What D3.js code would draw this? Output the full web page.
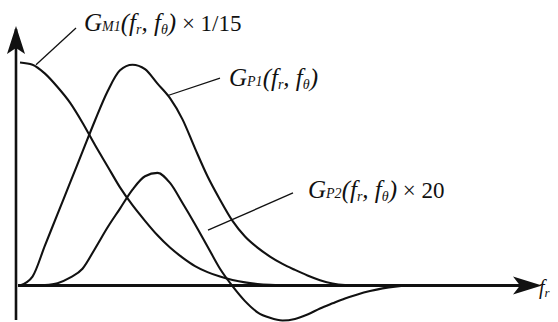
<!DOCTYPE html>
<html>
<head>
<meta charset="utf-8">
<script src="https://cdn.jsdelivr.net/npm/d3@7/dist/d3.min.js"></script>
<style>
  html, body { margin: 0; padding: 0; background: #ffffff; }
  svg { display: block; }
  .lbl { font-family: "Liberation Serif", "DejaVu Serif", serif; font-style: italic; fill: #111; }
</style>
</head>
<body>
<svg id="chart" width="558" height="322"></svg>
<script>
// radial frequency samples (arbitrary units)
const fr = [0, 0.25, 0.5, 0.75, 1, 1.25, 1.5, 1.75, 2, 2.25, 2.5, 2.75, 3, 3.25, 3.5, 3.75,
            4, 4.25, 4.5, 4.75, 5, 5.25, 5.5, 5.75, 6, 6.25, 6.5, 6.75, 7, 7.25, 7.5, 7.75, 8];

// G_M1(fr, fθ) × 1/15
const gM1 = [1.0, 0.99, 0.95, 0.89, 0.82, 0.73, 0.63, 0.535, 0.44, 0.36, 0.29, 0.225, 0.17, 0.125, 0.087, 0.06,
             0.04, 0.025, 0.014, 0.007, 0.003, 0.001, 0, 0, 0, 0, 0, 0, 0, 0, 0, 0, 0];

// G_P1(fr, fθ)
const gP1 = [0, 0.04, 0.18, 0.32, 0.46, 0.60, 0.74, 0.87, 0.965, 0.99, 0.97, 0.905, 0.84, 0.745, 0.615, 0.49,
             0.385, 0.29, 0.22, 0.17, 0.13, 0.097, 0.07, 0.045, 0.024, 0.009, 0.002, 0, 0, 0, 0, 0, 0];

// G_P2(fr, fθ) × 20
const gP2 = [0, 0, 0.002, 0.01, 0.035, 0.075, 0.165, 0.26, 0.345, 0.43, 0.49, 0.505, 0.46, 0.37, 0.275, 0.175,
             0.075, -0.003, -0.07, -0.12, -0.145, -0.157, -0.15, -0.13, -0.103, -0.08, -0.058, -0.04, -0.025, -0.013, -0.005, -0.001, 0];

const svg = d3.select("#chart");

const x = d3.scaleLinear().domain([0, 10]).range([20, 520]);
const y = d3.scaleLinear().domain([0, 1]).range([285.5, 62.5]);

// axes: vertical from below the baseline up to an arrow, horizontal out to an arrow
const axisG = svg.append("g");
axisG.append("line")
  .attr("x1", x(0) - 4).attr("x2", x(0) - 4)
  .attr("y1", y(-0.155)).attr("y2", y(1.15))
  .attr("stroke", "#111").attr("stroke-width", 2.6);
axisG.append("line")
  .attr("x1", x(0) - 2).attr("x2", x(10.3))
  .attr("y1", y(0)).attr("y2", y(0))
  .attr("stroke", "#111").attr("stroke-width", 3);

// arrowheads
const vx = x(0) - 4, vy = y(1.15) - 3;
axisG.append("path")
  .attr("d", `M${vx},${vy} L${vx + 9},${vy + 28} L${vx},${vy + 22} L${vx - 9},${vy + 28} Z`)
  .attr("fill", "#111");
const hx = x(10.44), hy = y(0);
axisG.append("path")
  .attr("d", `M${hx},${hy} L${hx - 29},${hy - 9} L${hx - 22},${hy} L${hx - 29},${hy + 9} Z`)
  .attr("fill", "#111");

// axis label f_r
const fl = svg.append("text").attr("class", "lbl")
  .attr("x", hx - 3).attr("y", hy + 8).attr("font-size", 20);
fl.append("tspan").text("f");
fl.append("tspan").attr("font-size", 13).attr("dy", 3).text("r");

// curves
const line = d3.line()
  .x((d, i) => x(fr[i]))
  .y(d => y(d))
  .curve(d3.curveMonotoneX);

[gM1, gP1, gP2].forEach(s => {
  svg.append("path")
    .attr("d", line(s))
    .attr("fill", "none")
    .attr("stroke", "#111")
    .attr("stroke-width", 2.1)
    .attr("stroke-linejoin", "round");
});

// leader lines from each curve to its label
const leaders = [
  { at: 0.32, y0: 0.99, tx: 1.12, ty: 1.155 },
  { at: 2.96, y0: 0.852, tx: 4.0, ty: 0.93 },
  { at: 3.76, y0: 0.248, tx: 5.46, ty: 0.415 }
];
leaders.forEach(l => {
  svg.append("line")
    .attr("x1", x(l.at)).attr("y1", y(l.y0))
    .attr("x2", x(l.tx)).attr("y2", y(l.ty))
    .attr("stroke", "#111").attr("stroke-width", 1.3);
});

// labels: G with subscript, function arguments, and scale factor
function label(px, py, sub, suffix) {
  const t = svg.append("text").attr("class", "lbl")
    .attr("x", px).attr("y", py).attr("font-size", 25);
  t.append("tspan").text("G");
  t.append("tspan").attr("font-size", 14).text(sub);
  t.append("tspan").text("(f");
  t.append("tspan").attr("font-size", 14).attr("dy", 3).text("r");
  t.append("tspan").attr("dy", -3).text(", f");
  t.append("tspan").attr("font-size", 14).attr("dy", 3).text("θ");
  t.append("tspan").attr("dy", -3).text(")");
  if (suffix) t.append("tspan").attr("font-style", "normal").attr("font-size", 23).text(suffix);
}
label(x(1.28), 31, "M1", " × 1/15");
label(x(4.18), 86, "P1", null);
label(x(5.76), 198, "P2", " × 20");
</script>
</body>
</html>
